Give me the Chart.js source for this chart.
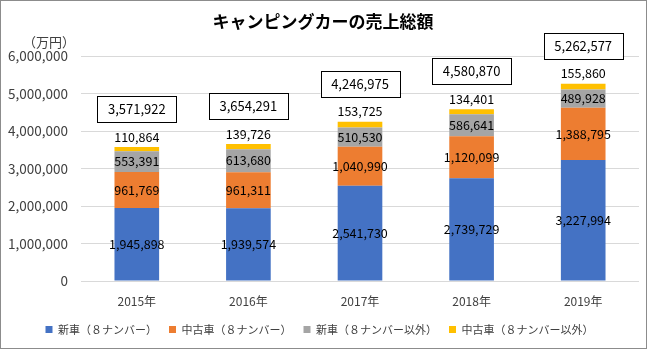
<!DOCTYPE html>
<html>
<head>
<meta charset="utf-8">
<script src="https://cdn.jsdelivr.net/npm/chart.js@4"></script>
<style>
  html, body { margin: 0; padding: 0; background: #fff; }
  canvas { display: block; }
</style>
</head>
<body>
<canvas id="chart" width="647" height="349"></canvas>
<script>
const FONT = "'Noto Sans CJK JP', 'Noto Sans', sans-serif";

const years = ['2015年', '2016年', '2017年', '2018年', '2019年'];
const newCar8 = [1945898, 1939574, 2541730, 2739729, 3227994];
const usedCar8 = [961769, 961311, 1040990, 1120099, 1388795];
const newCarOther = [553391, 613680, 510530, 586641, 489928];
const usedCarOther = [110864, 139726, 153725, 134401, 155860];
const totals = [3571922, 3654291, 4246975, 4580870, 5262577];
const yTicks = [0, 1000000, 2000000, 3000000, 4000000, 5000000, 6000000];

const COLORS = {
    newCar8: '#4472C4',
    usedCar8: '#ED7D31',
    newCarOther: '#A5A5A5',
    usedCarOther: '#FFC000',
    grid: '#d9d9d9',
    text: '#404040',
};

const fmt = v => v.toLocaleString('en-US');

// segment labels, top labels and total boxes
const labelPlugin = {
    id: 'labels',
    afterDatasetsDraw(chart) {
        const ctx = chart.ctx;
        ctx.save();
        ctx.font = '12.5px ' + FONT;
        ctx.textAlign = 'center';
        ctx.textBaseline = 'middle';
        ctx.fillStyle = '#000';
        chart.data.datasets.forEach((ds, i) => {
            const meta = chart.getDatasetMeta(i);
            meta.data.forEach((bar, j) => {
                const v = ds.data[j];
                if (i === 3) {
                    ctx.fillText(fmt(v), bar.x, bar.y - 10);
                } else {
                    ctx.fillText(fmt(v), bar.x, (bar.y + bar.base) / 2);
                }
            });
        });
        const top = chart.getDatasetMeta(3);
        top.data.forEach((bar, j) => {
            const cy = bar.y - 38;
            const w = 79, h = 26;
            ctx.fillStyle = '#fff';
            ctx.fillRect(bar.x - w / 2, cy - h / 2, w, h);
            ctx.strokeStyle = '#000';
            ctx.lineWidth = 1;
            ctx.strokeRect(Math.round(bar.x - w / 2) + 0.5, Math.round(cy - h / 2) + 0.5, w, h);
            ctx.fillStyle = '#000';
            ctx.font = '13px ' + FONT;
            ctx.fillText(fmt(totals[j]), bar.x, cy);
        });
        ctx.restore();
    },
    afterDraw(chart) {
        const ctx = chart.ctx;
        ctx.save();
        ctx.fillStyle = '#000';
        ctx.textAlign = 'center';
        ctx.textBaseline = 'middle';
        ctx.font = 'bold 17px ' + FONT;
        ctx.fillText('キャンピングカーの売上総額', 323, 22);
        ctx.font = '13px ' + FONT;
        ctx.fillStyle = COLORS.text;
        ctx.fillText('（万円）', 49, 42);
        ctx.strokeStyle = '#8c8c8c';
        ctx.lineWidth = 1;
        ctx.strokeRect(0.5, 0.5, chart.width - 1, chart.height - 1);
        ctx.restore();
    }
};

const makeSet = (label, data, color) => ({
    label: label,
    data: data,
    backgroundColor: color,
    borderWidth: 0,
    barPercentage: 0.4,
    categoryPercentage: 1.0,
});

new Chart(document.getElementById('chart'), {
    type: 'bar',
    data: {
        labels: years,
        datasets: [
            makeSet('新車（８ナンバー）', newCar8, COLORS.newCar8),
            makeSet('中古車（８ナンバー）', usedCar8, COLORS.usedCar8),
            makeSet('新車（８ナンバー以外）', newCarOther, COLORS.newCarOther),
            makeSet('中古車（８ナンバー以外）', usedCarOther, COLORS.usedCarOther),
        ]
    },
    options: {
        responsive: false,
        animation: false,
        devicePixelRatio: 1,
        layout: { padding: { top: 56, right: 8, left: 0, bottom: 4 } },
        plugins: {
            title: { display: false },
            tooltip: { enabled: false },
            legend: {
                position: 'bottom',
                labels: {
                    usePointStyle: true,
                    pointStyle: 'rect',
                    boxWidth: 7,
                    boxHeight: 7,
                    padding: 12,
                    color: COLORS.text,
                    font: { family: FONT, size: 11 }
                }
            }
        },
        scales: {
            x: {
                stacked: true,
                afterFit: scale => { scale.height = 31; },
                grid: { display: false },
                border: { display: false },
                ticks: { color: COLORS.text, font: { family: FONT, size: 12 }, padding: 5 }
            },
            y: {
                stacked: true,
                min: 0,
                max: 6000000,
                afterBuildTicks: scale => { scale.ticks = yTicks.map(v => ({ value: v })); },
                afterFit: scale => { scale.width = 81; },
                grid: { color: COLORS.grid, drawTicks: false },
                border: { display: false },
                ticks: {
                    color: COLORS.text,
                    padding: 13,
                    font: { family: FONT, size: 13.5 },
                    callback: v => fmt(v)
                }
            }
        }
    },
    plugins: [labelPlugin]
});
</script>
</body>
</html>
